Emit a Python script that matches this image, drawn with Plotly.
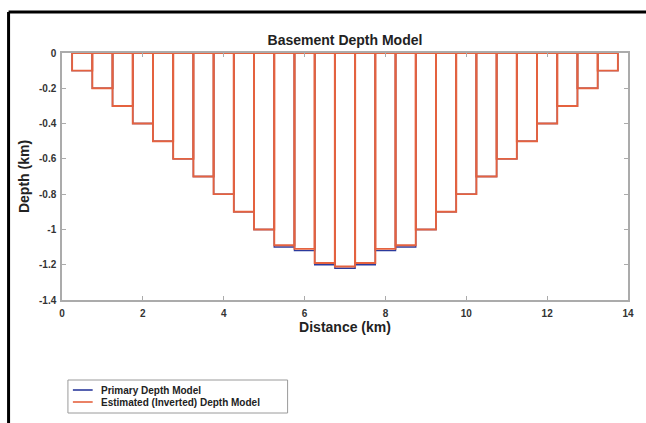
import plotly.graph_objects as go

# Block centres along the profile (km); each block is 0.5 km wide
distance_km = [0.5 + 0.5 * i for i in range(27)]

# Basement depth for each block (km, positive down)
primary_depth = [0.1, 0.2, 0.3, 0.4, 0.5, 0.6, 0.7, 0.8, 0.9, 1.0, 1.1, 1.12, 1.2,
                 1.22,
                 1.2, 1.12, 1.1, 1.0, 0.9, 0.8, 0.7, 0.6, 0.5, 0.4, 0.3, 0.2, 0.1]
estimated_depth = [0.1, 0.2, 0.3, 0.4, 0.5, 0.6, 0.7, 0.8, 0.9, 1.0, 1.09, 1.11, 1.19,
                   1.21,
                   1.19, 1.11, 1.09, 1.0, 0.9, 0.8, 0.7, 0.6, 0.5, 0.4, 0.3, 0.2, 0.1]

series_names = ["Primary Depth Model", "Estimated (Inverted) Depth Model"]

x_ticks = [0, 2, 4, 6, 8, 10, 12, 14]
y_ticks = [0, -0.2, -0.4, -0.6, -0.8, -1, -1.2, -1.4]
y_tick_text = ["0", "-0.2", "-0.4", "-0.6", "-0.8", "-1", "-1.2", "-1.4"]

BLUE = "#2B3A9C"
ORANGE = "#E5623F"
BLOCK_WIDTH = 0.5
FONT = "Liberation Sans"

# Plot-area geometry in pixels, used to place the frame and legend
L, R, T, B = 62, 12, 53, 123
W, H = 646, 423
PW, PH = W - L - R, H - T - B


def px_x(px):
    return (px - L) / PW


def px_y(py):
    return (H - B - py) / PH


fig = go.Figure()

for depth, color, lw in ((primary_depth, BLUE, 1.4), (estimated_depth, ORANGE, 1.9)):
    fig.add_trace(go.Bar(
        x=distance_km,
        y=[-d for d in depth],
        width=BLOCK_WIDTH,
        marker=dict(color="rgba(0,0,0,0)", line=dict(color=color, width=lw)),
        showlegend=False,
        hoverinfo="x+y",
    ))

axis_common = dict(
    showline=True, linecolor="#ABABAB", linewidth=1.5, mirror="allticks",
    ticks="inside", ticklen=4, tickcolor="#ABABAB", tickwidth=1,
    showgrid=False, zeroline=False,
    tickfont=dict(family=FONT, size=10, color="#333333", weight="bold"),
)

fig.update_layout(
    width=W, height=H,
    margin=dict(l=L, r=R, t=T, b=B),
    paper_bgcolor="white", plot_bgcolor="white",
    barmode="overlay",
    showlegend=False,
    title=dict(
        text="<b>Basement Depth Model</b>",
        x=0.5, xanchor="center", xref="paper",
        y=1 - 40 / H, yanchor="middle",
        font=dict(family=FONT, size=14, color="#222222"),
    ),
    xaxis=dict(
        range=[0, 14], tickvals=x_ticks, ticklabelstandoff=3,
        title=dict(text="<b>Distance (km)</b>", standoff=4,
                   font=dict(family=FONT, size=14, color="#222222")),
        **axis_common,
    ),
    yaxis=dict(
        range=[-1.4, 0], tickvals=y_ticks, ticktext=y_tick_text, ticklabelstandoff=2,
        title=dict(text="<b>Depth (km)</b>", standoff=6,
                   font=dict(family=FONT, size=14, color="#222222")),
        **axis_common,
    ),
)

# Legend box with line samples
fig.add_shape(type="rect", xref="paper", yref="paper",
              x0=px_x(68), x1=px_x(290), y0=px_y(413), y1=px_y(380),
              line=dict(color="#9A9A9A", width=1), fillcolor="white")
for i, (name, color) in enumerate(zip(series_names, (BLUE, ORANGE))):
    ly = 390 + 12 * i
    fig.add_shape(type="line", xref="paper", yref="paper",
                  x0=px_x(73), x1=px_x(93), y0=px_y(ly), y1=px_y(ly),
                  line=dict(color=color, width=1.6))
    fig.add_annotation(xref="paper", yref="paper", x=px_x(99), y=px_y(ly),
                       xanchor="left", yanchor="middle", showarrow=False,
                       text="<b>" + name + "</b>",
                       font=dict(family=FONT, size=10, color="#222222"))

# Black frame along the left and top edges of the figure
fig.add_shape(type="line", xref="paper", yref="paper",
              x0=px_x(8), x1=px_x(8), y0=px_y(12), y1=px_y(440),
              line=dict(color="black", width=3))
fig.add_shape(type="line", xref="paper", yref="paper",
              x0=px_x(8), x1=px_x(660), y0=px_y(12), y1=px_y(12),
              line=dict(color="black", width=3))

fig.write_html("out.html")
